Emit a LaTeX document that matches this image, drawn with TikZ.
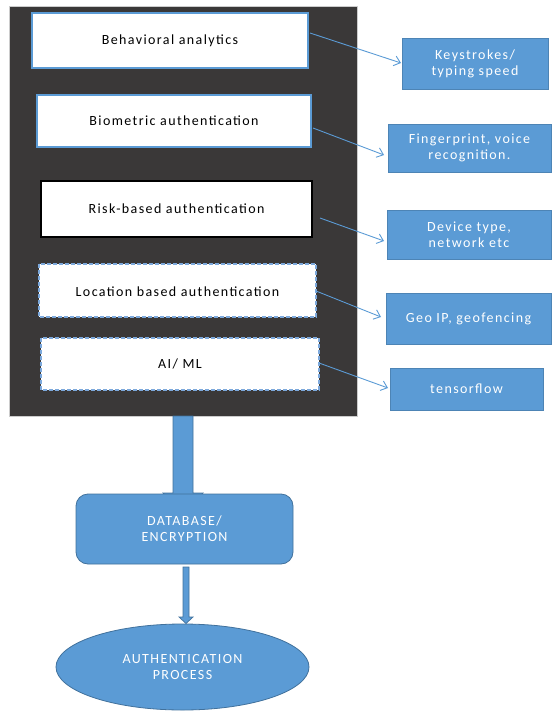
\documentclass[tikz,border=0pt]{standalone}
\usepackage{fontspec}
\setmainfont{Carlito}
\newfontfamily\boxfont[LetterSpace=10]{Carlito}
\usetikzlibrary{arrows.meta,shapes.geometric}
\definecolor{panel}{HTML}{3A3838}
\definecolor{office}{HTML}{5B9BD5}
\definecolor{officedark}{HTML}{41719C}
\definecolor{dashblue}{HTML}{7DA9DC}
\tikzset{
  lbl/.style={font=\boxfont\fontsize{14}{16}\selectfont, text=black, align=center},
  wlbl/.style={font=\boxfont\fontsize{14}{16}\selectfont, text=white, align=center},
  methodbox/.style={fill=white, line width=1.2pt},
  infobox/.style={fill=office, draw=office!85!black, line width=0.8pt},
  link/.style={draw=office, line width=0.9pt, -{Straight Barb[length=6pt,width=10pt]}},
}
\begin{document}
\begin{tikzpicture}[x=1pt,y=-1pt]
\useasboundingbox (0,0) rectangle (552,711);
% dark panel behind the methods
\draw[fill=panel, draw=gray!40, line width=0.6pt] (9,6) rectangle (357,416);

% methods
\draw[methodbox, draw=office] (32,13) rectangle (308,68);
\node[lbl] (m1) at (170,40.5) {Behavioral analytics};
\draw[methodbox, draw=office] (37,95) rectangle (311,147);
\node[lbl] (m2) at (174,121) {Biometric authentication};
\draw[methodbox, draw=black, line width=2pt] (41,181) rectangle (312,237);
\node[lbl] (m3) at (176.5,209) {Risk-based authentication};
\draw[methodbox, draw=dashblue, dash pattern=on 4pt off 2pt] (39,264) rectangle (316,317);
\node[lbl] (m4) at (177.5,291.5) {Location based authentication};
\draw[methodbox, draw=dashblue, dash pattern=on 4pt off 2pt] (41,338) rectangle (319,390);
\node[lbl] (m5) at (180,364) {AI/ ML};

% examples
\draw[infobox] (402,38) rectangle (548,89);
\node[wlbl] (e1) at (475,63.5) {Keystrokes/\\typing speed};
\draw[infobox] (388,124) rectangle (551,172);
\node[wlbl] (e2) at (469.5,148) {Fingerprint, voice\\recognition.};
\draw[infobox] (387,210) rectangle (551,259);
\node[wlbl] (e3) at (469,234.5) {Device type,\\network etc};
\draw[infobox] (386,293) rectangle (551,344);
\node[wlbl] (e4) at (468.5,318.5) {Geo IP, geofencing};
\draw[infobox] (390,368) rectangle (543,410);
\node[wlbl] (e5) at (466.5,389) {tensorflow};

% connectors
\coordinate (s1) at (310,33);  \coordinate (t1) at (401,63);
\coordinate (s2) at (313,128); \coordinate (t2) at (384,155);
\coordinate (s3) at (320,218); \coordinate (t3) at (384,241);
\coordinate (s4) at (316,291); \coordinate (t4) at (381,317);
\coordinate (s5) at (319,363); \coordinate (t5) at (388,388);
\draw[link] (s1) -- (t1);
\draw[link] (s2) -- (t2);
\draw[link] (s3) -- (t3);
\draw[link] (s4) -- (t4);
\draw[link] (s5) -- (t5);

% wide block arrow from the panel into the database box
\draw[fill=office, draw=officedark, line width=0.8pt]
  (173,416) -- (193,416) -- (193,493) -- (203,493) -- (183,515) -- (163,493) -- (173,493) -- cycle;

% database box
\node[draw=officedark, fill=office, line width=0.8pt, rounded corners=12pt,
      minimum width=217pt, minimum height=70pt, wlbl] (db) at (184.5,529)
  {DATABASE/\\ENCRYPTION};

% narrow arrow down to the process
\draw[fill=office, draw=officedark, line width=0.7pt]
  (183,567) -- (189,567) -- (189,617) -- (193,617) -- (186,623.5) -- (179,617) -- (183,617) -- cycle;

% process ellipse
\node[ellipse, draw=officedark, fill=office, line width=0.8pt,
      minimum width=253pt, minimum height=86pt, inner sep=0pt, wlbl] (proc) at (182.5,667)
  {AUTHENTICATION\\PROCESS};
\end{tikzpicture}
\end{document}
